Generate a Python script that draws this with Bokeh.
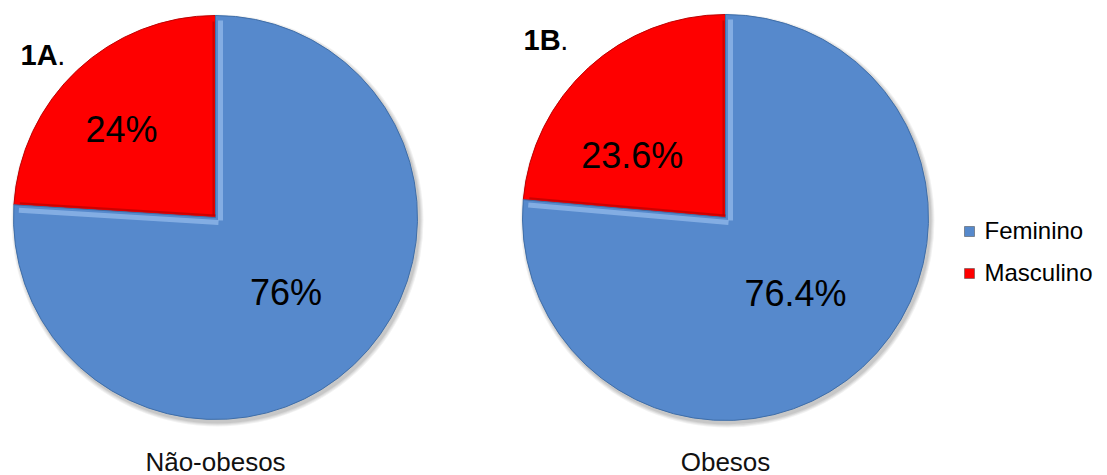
import numpy as np
from bokeh.plotting import figure
from bokeh.models import Range1d
from bokeh.core.properties import value
from bokeh.embed import file_html
from bokeh.resources import INLINE

# ---- data ----
categories = ["Feminino", "Masculino"]
groups = ["Não-obesos", "Obesos"]
panel_tags = ["1A", "1B"]
feminino = [76.0, 76.4]
masculino = [24.0, 23.6]
fem_labels = ["76%", "76.4%"]
masc_labels = ["24%", "23.6%"]

# ---- styles / layout ----
W, H = 1107, 475
BLUE = "#5689cc"
RED = "#fe0000"
centers = [(215, 217), (725, 217)]   # screen px
radii = [202, 203]
tag_pos = [(20, 54), (523, 39)]
masc_lab_off = [(-11, 0), (-11, -28)]
fem_lab_off = [(0, 0), (0, 0)]
FONT = value("Liberation Sans")
TAG_SIZE = 29

p = figure(width=W, height=H, x_range=Range1d(0, W), y_range=Range1d(0, H),
           output_backend="svg", toolbar_location=None, min_border=0)
p.axis.visible = False
p.grid.visible = False
p.outline_line_color = None
p.background_fill_color = "white"

def Y(sy):
    return H - sy

for i in range(2):
    cx, cy = centers[i]
    r = radii[i]
    x0, y0 = cx, Y(cy)
    # soft shadow
    for k, a in enumerate([0.05, 0.05, 0.06, 0.07]):
        p.circle(x=[x0 + 2], y=[y0 - 3], radius=r + 4 - k, radius_units="screen",
                 fill_color="#000000", fill_alpha=a, line_color=None)
    a_start = np.pi / 2
    a_mid = a_start + masculino[i] / 100 * 2 * np.pi
    a_end = a_start + (masculino[i] + feminino[i]) / 100 * 2 * np.pi
    # Masculino wedge (counter-clockwise from 12 o'clock)
    p.wedge(x=[x0], y=[y0], radius=r, radius_units="screen",
            start_angle=a_start, end_angle=a_mid,
            fill_color=RED, line_color="#c00000", line_width=1)
    # Feminino wedge
    p.wedge(x=[x0], y=[y0], radius=r, radius_units="screen",
            start_angle=a_mid, end_angle=a_end,
            fill_color=BLUE, line_color="#3f6ea8", line_width=1)
    # bevel highlights along the radial edges
    ex, ey = np.cos(a_mid), np.sin(a_mid)
    p.segment(x0=[x0 + 5], y0=[y0 - 3], x1=[x0 + 5], y1=[y0 + r - 5],
              line_color="#8fb6e8", line_width=5, line_alpha=0.8)
    p.segment(x0=[x0 + 3], y0=[y0 - 5], x1=[x0 + ex * (r - 5)], y1=[y0 + ey * (r - 5) - 5],
              line_color="#8fb6e8", line_width=5, line_alpha=0.8)
    p.segment(x0=[x0 - 2], y0=[y0 + 2], x1=[x0 - 2], y1=[y0 + r - 6],
              line_color="#b80000", line_width=2, line_alpha=0.7)
    p.segment(x0=[x0], y0=[y0 + 2], x1=[x0 + ex * (r - 6)], y1=[y0 + ey * (r - 6) + 2],
              line_color="#b80000", line_width=2, line_alpha=0.7)

    # value labels
    m_ang = (a_start + a_mid) / 2
    f_ang = (a_mid + a_end) / 2
    p.text(x=[x0 + 0.6 * r * np.cos(m_ang) + masc_lab_off[i][0]],
           y=[y0 + 0.6 * r * np.sin(m_ang) + masc_lab_off[i][1]],
           text=[masc_labels[i]], text_font=FONT, text_font_size="36px",
           text_align="center", text_baseline="middle", text_color="black")
    p.text(x=[x0 + 0.51 * r * np.cos(f_ang) + fem_lab_off[i][0]],
           y=[y0 + 0.51 * r * np.sin(f_ang) + fem_lab_off[i][1]],
           text=[fem_labels[i]], text_font=FONT, text_font_size="36px",
           text_align="center", text_baseline="middle", text_color="black")
    # panel tag
    p.text(x=[tag_pos[i][0]], y=[Y(tag_pos[i][1])], text=[panel_tags[i]],
           text_font=FONT, text_font_size=f"{TAG_SIZE}px", text_font_style="bold",
           text_align="left", text_baseline="middle", text_color="black")
    p.text(x=[tag_pos[i][0] + 1.27 * TAG_SIZE], y=[Y(tag_pos[i][1])], text=["."],
           text_font=FONT, text_font_size=f"{TAG_SIZE}px",
           text_align="left", text_baseline="middle", text_color="black")
    # group label
    p.text(x=[x0], y=[Y(461)], text=[groups[i]], text_font=FONT, text_font_size="26px",
           text_align="center", text_baseline="middle", text_color="#111111")

# legend
leg_colors = [BLUE, RED]
leg_y = [231, 273]
for j in range(2):
    p.scatter(x=[969], y=[Y(leg_y[j])], marker="square", size=10,
              fill_color=leg_colors[j], line_color="#444444", line_width=0.5)
    p.text(x=[984], y=[Y(leg_y[j] - 1)], text=[categories[j]], text_font=FONT,
           text_font_size="24px", text_align="left", text_baseline="middle",
           text_color="black")

open("out.html", "w").write(file_html(p, INLINE))
